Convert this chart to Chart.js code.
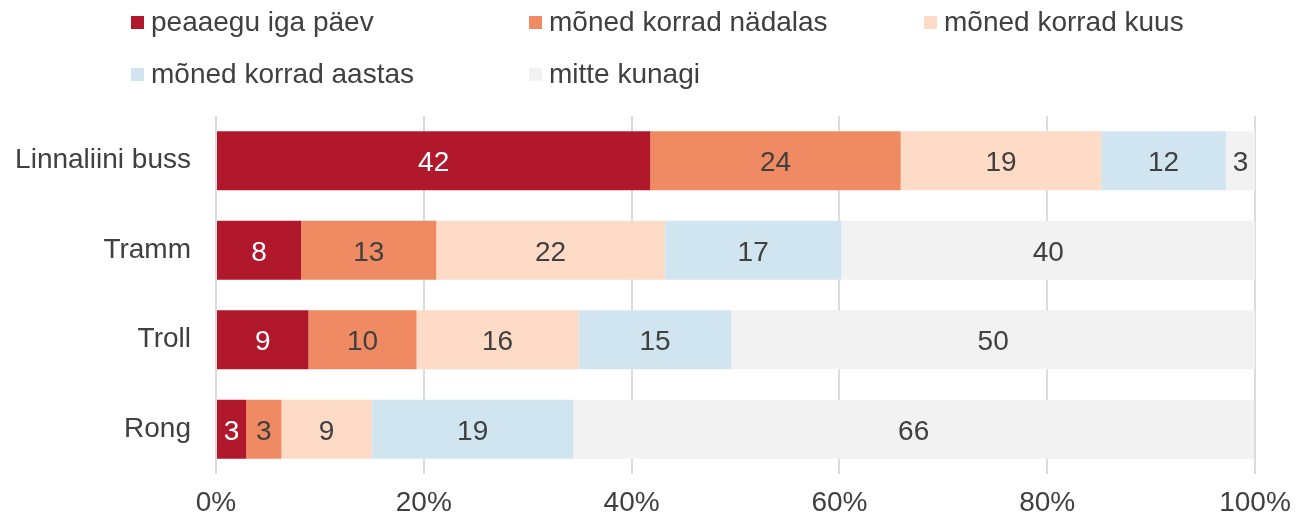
<!DOCTYPE html>
<html>
<head>
<meta charset="utf-8">
<script src="https://cdn.jsdelivr.net/npm/chart.js@4/dist/chart.umd.min.js"></script>
<style>
  html, body { margin: 0; padding: 0; background: #fff; }
  #wrap { position: relative; width: 1296px; height: 518px; }
  canvas { display: block; }
  #legend {
    position: absolute; left: 131px; top: 2px;
    font-family: "Liberation Sans", Arial, sans-serif; font-size: 28px; color: #404040;
    display: grid; grid-template-columns: 398px 395px 300px; row-gap: 12px;
  }
  #legend div { display: flex; align-items: center; height: 40px; }
  #legend span.box { width: 13px; height: 13px; margin-right: 7px; display: inline-block; }
</style>
</head>
<body>
<div id="wrap">
  <canvas id="chart" width="1296" height="518"></canvas>
  <div id="legend"></div>
</div>
<script>
// kategooriad ja seeriad (protsendid, loetud pildilt)
const categories = ['Linnaliini buss', 'Tramm', 'Troll', 'Rong'];
const seriesNames = ['peaaegu iga päev', 'mõned korrad nädalas', 'mõned korrad kuus', 'mõned korrad aastas', 'mitte kunagi'];
const dailyValues = [41.8, 8.2, 8.9, 2.9];
const weeklyValues = [24.1, 13.0, 10.4, 3.4];
const monthlyValues = [19.3, 22.0, 15.6, 8.7];
const yearlyValues = [12.0, 17.0, 14.7, 19.4];
const neverValues = [2.8, 39.8, 50.4, 65.5];
const xTicks = [0, 20, 40, 60, 80, 100];

const colors = ['#b2182b', '#ef8a62', '#fddbc7', '#d1e5f0', '#f2f2f2'];
const labelColors = ['#ffffff', '#404040', '#404040', '#404040', '#404040'];
const allValues = [dailyValues, weeklyValues, monthlyValues, yearlyValues, neverValues];

// legend HTML-ina, et veerud joonduksid
const legendEl = document.getElementById('legend');
seriesNames.forEach(function (name, i) {
    const item = document.createElement('div');
    item.innerHTML = '<span class="box" style="background:' + colors[i] + '"></span>' + name;
    legendEl.appendChild(item);
});

// andmesildid ribade keskele
const barLabels = {
    id: 'barLabels',
    afterDatasetsDraw(chart) {
        const ctx = chart.ctx;
        ctx.save();
        ctx.font = '28px "Liberation Sans", Arial, sans-serif';
        ctx.textAlign = 'center';
        ctx.textBaseline = 'middle';
        chart.data.datasets.forEach(function (ds, i) {
            chart.getDatasetMeta(i).data.forEach(function (bar, j) {
                const v = ds.data[j];
                const x = (bar.x + bar.base) / 2;
                ctx.fillStyle = labelColors[i];
                ctx.fillText(Math.round(v), x, bar.y + 3);
            });
        });
        ctx.restore();
    }
};

const fontFamily = '"Liberation Sans", Arial, sans-serif';

new Chart(document.getElementById('chart'), {
    type: 'bar',
    data: {
        labels: categories,
        datasets: allValues.map(function (vals, i) {
            return {
                label: seriesNames[i],
                data: vals,
                backgroundColor: colors[i],
                borderWidth: 0,
                categoryPercentage: 1,
                barPercentage: 0.66
            };
        })
    },
    options: {
        indexAxis: 'y',
        responsive: false,
        animation: false,
        layout: { padding: { top: 116, left: 0, right: 41, bottom: 0 } },
        plugins: { legend: { display: false }, tooltip: { enabled: false } },
        scales: {
            x: {
                stacked: true,
                min: 0,
                max: 100,
                afterBuildTicks: function (scale) {
                    scale.ticks = xTicks.map(function (v) { return { value: v }; });
                },
                afterFit: function (scale) {
                    scale.height = 44;
                    scale.paddingLeft = 0;
                    scale.paddingRight = 0;
                },
                border: { display: false },
                grid: { color: '#dcdcdc', lineWidth: 2, drawTicks: false },
                ticks: {
                    padding: 12,
                    color: '#404040',
                    font: { family: fontFamily, size: 28 },
                    callback: function (v) { return v + '%'; }
                }
            },
            y: {
                stacked: true,
                afterFit: function (scale) { scale.width = 216; },
                border: { display: false },
                grid: { display: false, drawTicks: false },
                ticks: {
                    padding: 25,
                    color: '#404040',
                    font: { family: fontFamily, size: 28 }
                }
            }
        }
    },
    plugins: [barLabels]
});
</script>
</body>
</html>
